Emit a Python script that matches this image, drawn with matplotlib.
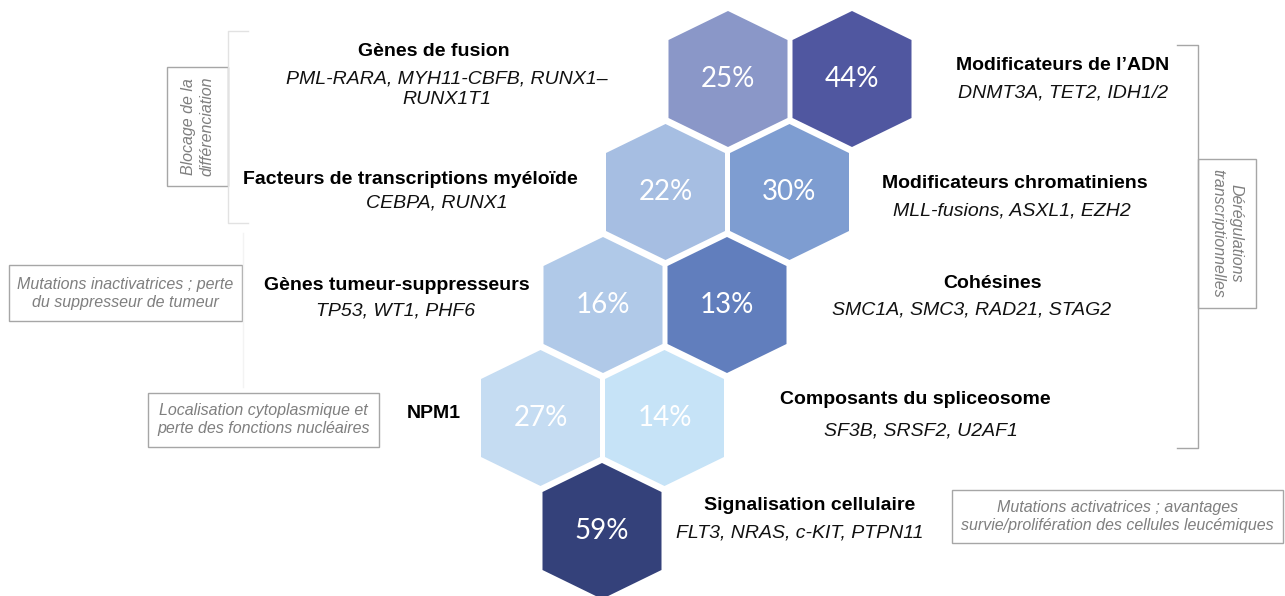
import matplotlib
matplotlib.use("Agg")
import matplotlib.pyplot as plt
from matplotlib.patches import Polygon, Rectangle
from matplotlib.lines import Line2D

# ---------------- data ----------------
categories = ["Gènes de fusion", "Modificateurs de l’ADN",
              "Facteurs de transcriptions myéloïde", "Modificateurs chromatiniens",
              "Gènes tumeur-suppresseurs", "Cohésines",
              "NPM1", "Composants du spliceosome",
              "Signalisation cellulaire"]
genes = ["PML-RARA, MYH11-CBFB, RUNX1–\nRUNX1T1", "DNMT3A, TET2, IDH1/2",
         "CEBPA, RUNX1", "MLL-fusions, ASXL1, EZH2",
         "TP53, WT1, PHF6", "SMC1A, SMC3, RAD21, STAG2",
         "", "SF3B, SRSF2, U2AF1",
         "FLT3, NRAS, c-KIT, PTPN11"]
percentages = [25, 44, 22, 30, 16, 13, 27, 14, 59]
hex_colors = ["#8A97C8", "#5057A0", "#A6BEE2", "#7E9DD1", "#B0C9E8",
              "#617EBD", "#C5DCF2", "#C6E3F7", "#34417A"]
hex_rows = [0, 0, 1, 1, 2, 2, 3, 3, 4]
hex_cols = [0, 1, 0, 1, 0, 1, 0, 1, 1]

group_notes = ["Blocage de la\ndifférenciation",
               "Dérégulations\ntranscriptionnelles",
               "Mutations inactivatrices ; perte\ndu suppresseur de tumeur",
               "Localisation cytoplasmique et\nperte des fonctions nucléaires",
               "Mutations activatrices ; avantages\nsurvie/prolifération des cellules leucémiques"]

# ---------------- layout ----------------
W, H = 1285, 596
fig = plt.figure(figsize=(W / 100, H / 100), dpi=100)
ax = fig.add_axes([0, 0, 1, 1])
ax.set_xlim(0, W)
ax.set_ylim(H, 0)
ax.axis("off")

X0, Y0 = 728, 79        # centre of first hexagon
DX, DY = 124, 113       # column / row spacing
SHIFT = 62.5            # horizontal shift per row
HW, HH, HS = 59.5, 68, 39  # half width, half height, half vertical side

for val, col, r, c in zip(percentages, hex_colors, hex_rows, hex_cols):
    cx = X0 + DX * c - SHIFT * r
    cy = Y0 + DY * r
    pts = [(cx, cy - HH), (cx + HW, cy - HS), (cx + HW, cy + HS),
           (cx, cy + HH), (cx - HW, cy + HS), (cx - HW, cy - HS)]
    ax.add_patch(Polygon(pts, closed=True, facecolor=col, edgecolor="none"))
    ax.text(cx, cy, f"{val}%", ha="center", va="center", color="white",
            fontsize=20, family="Lato")

# category labels (title position, gene position)
title_pos = [(434, 52), (1063, 65), (410, 179), (1015, 183), (397, 285),
             (993, 283), (434, 413), (915, 400), (810, 505)]
gene_pos = [(447, 89), (1063, 93), (437, 203), (1012, 211), (396, 311),
            (972, 310), (0, 0), (921, 431), (800, 533)]

for cat, g, tp, gp in zip(categories, genes, title_pos, gene_pos):
    ax.text(tp[0], tp[1], cat, ha="center", va="center", fontsize=14,
            fontweight="bold", family="Liberation Sans", color="black")
    if g:
        ax.text(gp[0], gp[1], g, ha="center", va="center", fontsize=14,
                style="italic", family="Liberation Sans", color="#111111",
                linespacing=1.3, multialignment="center")

GRAY_T = "#7F7F7F"
GRAY_E = "#A6A6A6"

# boxes: (x0, y0, x1, y1, rotation)
boxes = [(167, 67, 228, 186, 90),
         (1198, 159, 1256, 308, -90),
         (9, 265, 242, 321, 0),
         (148, 393, 379, 447, 0),
         (952, 490, 1283, 543, 0)]
for note, (x0, y0, x1, y1, rot) in zip(group_notes, boxes):
    ax.add_patch(Rectangle((x0, y0), x1 - x0, y1 - y0, facecolor="white",
                           edgecolor=GRAY_E, lw=1.0))
    ax.text((x0 + x1) / 2, (y0 + y1) / 2, note, ha="center", va="center",
            rotation=rot, fontsize=11.5, style="italic",
            family="Liberation Sans", color=GRAY_T, linespacing=1.25,
            multialignment="center", rotation_mode="anchor")

# brackets
ax.add_line(Line2D([1177, 1198, 1198, 1177], [45, 45, 448, 448],
                   color=GRAY_E, lw=1.0))
ax.add_line(Line2D([248, 228, 228, 248], [31, 31, 223, 223],
                   color="#E2E2E2", lw=1.0))
ax.add_line(Line2D([243, 243], [233, 387], color="#F3F3F3", lw=1.0))

fig.savefig("out.png", dpi=100, facecolor="white")
